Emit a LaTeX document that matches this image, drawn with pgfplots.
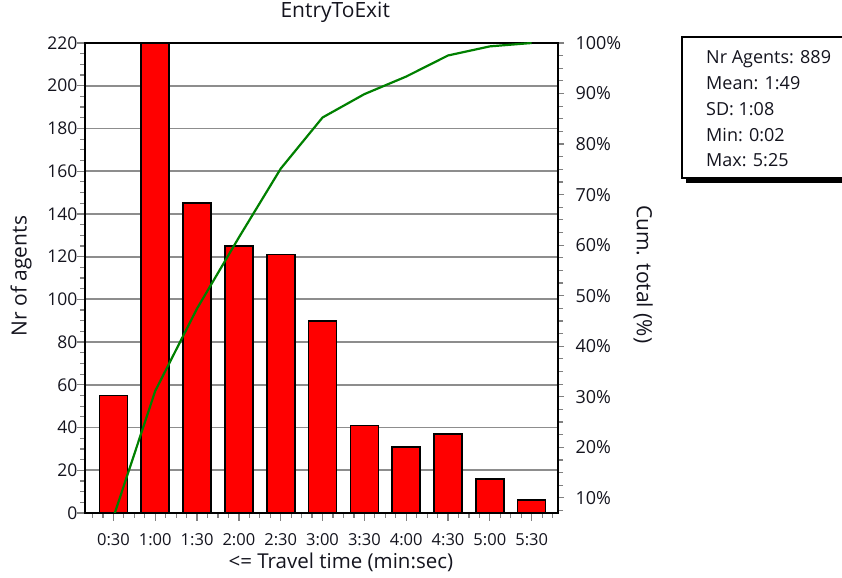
\documentclass[border=0pt]{standalone}
\usepackage{pgfplots}
\pgfplotsset{compat=1.18}
\usepackage{fontspec}
\setmainfont{Open Sans}

\definecolor{barred}{RGB}{255,0,0}
\definecolor{cumgreen}{RGB}{0,128,0}
\definecolor{gridgray}{RGB}{128,128,128}
\definecolor{textdark}{RGB}{20,20,30}

\begin{document}
\begin{tikzpicture}[x=1bp,y=1bp]
\useasboundingbox (0,0) rectangle (842,578);

% bars: number of agents per travel-time bin
\begin{axis}[
    at={(85bp,65bp)}, anchor=south west,
    scale only axis, width=473bp, height=470bp,
    xmin=0.32, xmax=11.63,
    ymin=0, ymax=220,
    xtick={1,...,11},
    xticklabels={0:30,1:00,1:30,2:00,2:30,3:00,3:30,4:00,4:30,5:00,5:30},
    minor xtick={0.5,0.75,...,11.5},
    ytick={0,20,...,220},
    minor ytick={0,5,...,220},
    xtick pos=bottom, ytick pos=left,
    tick align=outside,
    major tick length=8bp, minor tick length=5bp,
    every tick/.style={gridgray, line width=1.2bp},
    ymajorgrids,
    major grid style={gridgray!90, line width=1.8bp},
    axis line style={black, line width=2bp},
    /pgf/number format/assume math mode=true,
    xticklabel style={font=\fontsize{16.5bp}{19bp}\selectfont, text=textdark, yshift=-9bp},
    yticklabel style={font=\fontsize{17.5bp}{20bp}\selectfont, text=textdark, xshift=4bp},
    title={EntryToExit},
    title style={font=\fontsize{21bp}{24bp}\selectfont, text=textdark, at={(rel axis cs:0.529,1.053)}, anchor=center},
    xlabel={<= Travel time (min:sec)},
    xlabel style={font=\fontsize{20.5bp}{24bp}\selectfont, text=textdark, at={(rel axis cs:0.541,-0.106)}, anchor=center},
    ylabel={Nr of agents},
    ylabel style={font=\fontsize{21bp}{24bp}\selectfont, text=textdark, at={(rel axis cs:-0.135,0.504)}, anchor=center, rotate=0},
]
\addplot[ybar, bar width=0.67, fill=barred, draw=black, line width=1.6bp]
    coordinates {
    (1,55)(2,222)(3,145)(4,125)(5,121)(6,90)(7,41)(8,31)(9,37)(10,16)(11,6)
    };
\end{axis}

% cumulative percentage
\begin{axis}[
    at={(85bp,65bp)}, anchor=south west,
    scale only axis, width=473bp, height=470bp,
    xmin=0.32, xmax=11.63,
    ymin=7, ymax=100,
    xtick=\empty,
    ytick={10,20,...,100},
    minor ytick={7.5,10,...,100},
    ytick pos=right,
    tick align=outside,
    major tick length=6bp, minor tick length=5bp,
    every tick/.style={gridgray, line width=1.2bp},
    axis line style={black, line width=2bp},
    /pgf/number format/assume math mode=true,
    yticklabel={\pgfmathprintnumber{\tick}\%},
    yticklabel style={font=\fontsize{18bp}{21bp}\selectfont, text=textdark, xshift=8bp},
    ylabel={Cum. total (\%)},
    ylabel style={font=\fontsize{21bp}{24bp}\selectfont, text=textdark, at={(rel axis cs:1.18,0.508)}, anchor=center, rotate=180},
]
\addplot[cumgreen, line width=2.2bp]
    coordinates {
    (1,6.19)(2,31.16)(3,47.47)(4,61.53)(5,75.14)(6,85.26)(7,89.88)(8,93.36)(9,97.53)(10,99.33)(11,100)
    };
\end{axis}

% statistics box
\fill[black] (686,395) rectangle (860,537);
\draw[black, line width=1.6bp, fill=white] (682,400) rectangle (856,541);
\foreach \txt [count=\i from 0] in {Nr Agents: 889, Mean: 1:49, SD: 1:08, Min: 0:02, Max: 5:25}
    \node[anchor=base west, inner sep=0pt, text=textdark, font=\fontsize{18bp}{21bp}\selectfont]
        at (706,{514-25.75*\i}) {\txt};
\end{tikzpicture}
\end{document}
